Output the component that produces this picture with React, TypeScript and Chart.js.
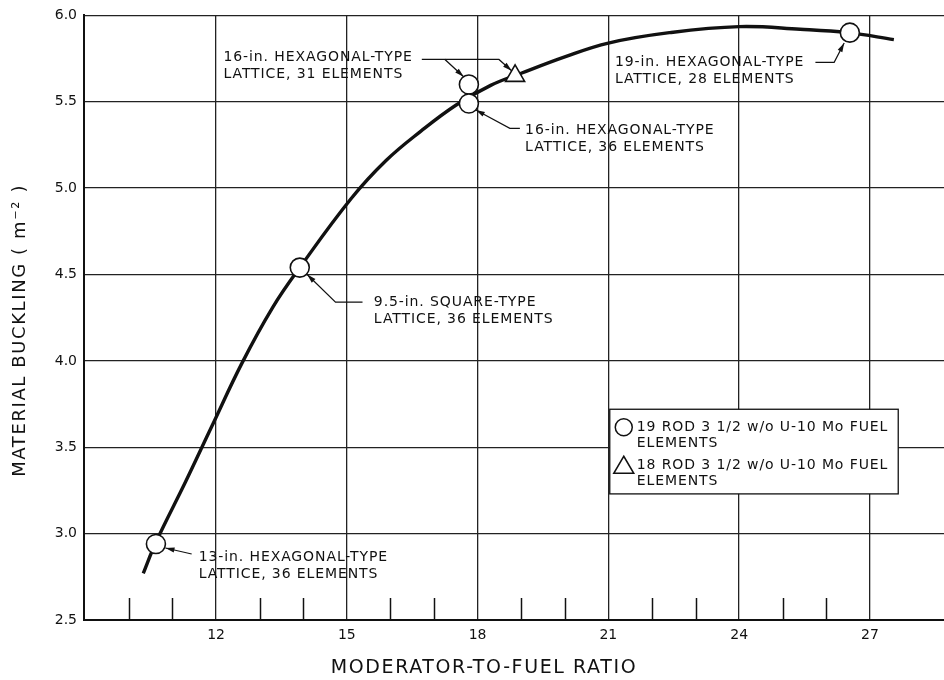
import React, { useEffect, useRef } from "react";
import { Chart, registerables } from "chart.js";
Chart.register(...registerables);

// ---- data ----
const curveX = [10.33, 10.62, 11.3, 11.9, 12.6, 13.3, 13.92, 15.1, 15.9, 16.7, 17.5, 18.3, 19.0, 20.0, 21.0, 22.4, 24.0, 25.4, 26.5, 27.55];
const curveY = [2.77, 2.95, 3.3, 3.62, 3.99, 4.31, 4.54, 4.94, 5.16, 5.33, 5.48, 5.595, 5.665, 5.76, 5.84, 5.9, 5.935, 5.92, 5.9, 5.86];
const rod19X = [10.62, 13.92, 17.8, 17.8, 26.54];
const rod19Y = [2.94, 4.54, 5.6, 5.49, 5.9];
const rod18X = [18.86];
const rod18Y = [5.65];
const xMajorTicks = [12, 15, 18, 21, 24, 27];
const xMinorTicks = [10, 11, 13, 14, 16, 17, 19, 20, 22, 23, 25, 26];
const yTicks = [2.5, 3.0, 3.5, 4.0, 4.5, 5.0, 5.5, 6.0];
const xTitle = "MODERATOR-TO-FUEL RATIO";
const yTitle = "MATERIAL BUCKLING ( m⁻² )";
const legend19 = ["19 ROD 3 1/2 w/o U-10 Mo FUEL", "ELEMENTS"];
const legend18 = ["18 ROD 3 1/2 w/o U-10 Mo FUEL", "ELEMENTS"];

// annotation labels (text anchor and leader paths in data units)
const annotations = [
  {
    lines: ["16-in. HEXAGONAL-TYPE", "LATTICE, 31 ELEMENTS"],
    at: [12.17, 5.757],
    leaders: [
      [[16.72, 5.745], [17.25, 5.745], [17.68, 5.645]],
      [[17.25, 5.745], [18.49, 5.745], [18.78, 5.68]],
    ],
  },
  {
    lines: ["16-in. HEXAGONAL-TYPE", "LATTICE, 36 ELEMENTS"],
    at: [19.09, 5.335],
    leaders: [[[18.97, 5.346], [18.74, 5.346], [17.96, 5.452]]],
  },
  {
    lines: ["9.5-in. SQUARE-TYPE", "LATTICE, 36 ELEMENTS"],
    at: [15.62, 4.34],
    leaders: [[[15.36, 4.34], [14.74, 4.34], [14.09, 4.5]]],
  },
  {
    lines: ["13-in. HEXAGONAL-TYPE", "LATTICE, 36 ELEMENTS"],
    at: [11.6, 2.864],
    leaders: [[[11.44, 2.882], [10.84, 2.917]]],
  },
  {
    lines: ["19-in. HEXAGONAL-TYPE", "LATTICE, 28 ELEMENTS"],
    at: [21.15, 5.728],
    leaders: [[[25.75, 5.728], [26.18, 5.728], [26.41, 5.84]]],
  },
];

const FONT = "'DejaVu Sans', sans-serif";

function arrowHead(ctx: CanvasRenderingContext2D, x1: number, y1: number, x2: number, y2: number) {
  const a = Math.atan2(y2 - y1, x2 - x1);
  const L = 9, W = 2.6;
  ctx.beginPath();
  ctx.moveTo(x2, y2);
  ctx.lineTo(x2 - L * Math.cos(a) + W * Math.sin(a), y2 - L * Math.sin(a) - W * Math.cos(a));
  ctx.lineTo(x2 - L * Math.cos(a) - W * Math.sin(a), y2 - L * Math.sin(a) + W * Math.cos(a));
  ctx.closePath();
  ctx.fill();
}

const overlayPlugin = {
  id: "overlay",
  afterDraw(chart: any) {
    const ctx: CanvasRenderingContext2D = chart.ctx;
    const xs = chart.scales.x;
    const ys = chart.scales.y;
    const area = chart.chartArea;
    ctx.save();
    ctx.strokeStyle = "#111";
    ctx.fillStyle = "#111";

    // minor tick marks on the bottom axis
    ctx.lineWidth = 1.5;
    for (const v of xMinorTicks) {
      const px = Math.round(xs.getPixelForValue(v)) + 0.5;
      ctx.beginPath();
      ctx.moveTo(px, area.bottom);
      ctx.lineTo(px, area.bottom - 22);
      ctx.stroke();
    }

    // annotations
    ctx.font = `14px ${FONT}`;
    (ctx as any).letterSpacing = "0.9px";
    ctx.textBaseline = "middle";
    ctx.textAlign = "left";
    for (const a of annotations) {
      const tx = xs.getPixelForValue(a.at[0]);
      const ty = ys.getPixelForValue(a.at[1]);
      a.lines.forEach((ln, i) => ctx.fillText(ln, tx, ty + i * 17));
      ctx.lineWidth = 1.2;
      for (const path of a.leaders) {
        const pts = path.map((p) => [xs.getPixelForValue(p[0]), ys.getPixelForValue(p[1])]);
        ctx.beginPath();
        pts.forEach((p, i) => (i === 0 ? ctx.moveTo(p[0], p[1]) : ctx.lineTo(p[0], p[1])));
        ctx.stroke();
        const n = pts.length;
        arrowHead(ctx, pts[n - 2][0], pts[n - 2][1], pts[n - 1][0], pts[n - 1][1]);
      }
    }

    // legend box
    const boxRight = xs.getPixelForValue(27.65);
    const boxTop = ys.getPixelForValue(3.72);
    const boxBottom = ys.getPixelForValue(3.23);
    const w = Math.max(ctx.measureText(legend19[0]).width, ctx.measureText(legend18[0]).width);
    const textLeft = boxRight - 10 - w;
    const boxLeft = textLeft - 27;
    ctx.fillStyle = "#fff";
    ctx.fillRect(boxLeft, boxTop, boxRight - boxLeft, boxBottom - boxTop);
    ctx.lineWidth = 1.3;
    ctx.strokeRect(boxLeft, boxTop, boxRight - boxLeft, boxBottom - boxTop);
    ctx.fillStyle = "#111";
    const l1 = boxTop + 18, l3 = boxTop + 56;
    ctx.fillText(legend19[0], textLeft, l1);
    ctx.fillText(legend19[1], textLeft, l1 + 16);
    ctx.fillText(legend18[0], textLeft, l3);
    ctx.fillText(legend18[1], textLeft, l3 + 16);
    const mx = boxLeft + 14;
    ctx.lineWidth = 1.5;
    ctx.beginPath();
    ctx.arc(mx, l1, 8.5, 0, Math.PI * 2);
    ctx.stroke();
    ctx.beginPath();
    ctx.moveTo(mx, l3 - 9);
    ctx.lineTo(mx + 10, l3 + 8);
    ctx.lineTo(mx - 10, l3 + 8);
    ctx.closePath();
    ctx.stroke();

    // axis titles
    ctx.fillStyle = "#111";
    ctx.textAlign = "center";
    ctx.font = `19px ${FONT}`;
    (ctx as any).letterSpacing = "1.6px";
    ctx.fillText(xTitle, area.left + 400, area.bottom + 48);
    ctx.translate(20, area.top + 315);
    ctx.rotate(-Math.PI / 2);
    ctx.font = `18px ${FONT}`;
    (ctx as any).letterSpacing = "1.6px";
    ctx.fillText(yTitle, 0, 0);
    (ctx as any).letterSpacing = "0px";
    ctx.restore();
  },
};

export default function App() {
  const ref = useRef<HTMLCanvasElement | null>(null);
  useEffect(() => {
    if (!ref.current) return;
    const chart = new Chart(ref.current, {
      type: "scatter",
      data: {
        datasets: [
          {
            label: "19 ROD 3 1/2 w/o U-10 Mo FUEL ELEMENTS",
            data: rod19X.map((x, i) => ({ x, y: rod19Y[i] })),
            pointStyle: "circle",
            pointRadius: 9.5,
            backgroundColor: "#fff",
            borderColor: "#111",
            borderWidth: 1.6,
            showLine: false,
          },
          {
            label: "18 ROD 3 1/2 w/o U-10 Mo FUEL ELEMENTS",
            data: rod18X.map((x, i) => ({ x, y: rod18Y[i] })),
            pointStyle: "triangle",
            pointRadius: 11,
            backgroundColor: "#fff",
            borderColor: "#111",
            borderWidth: 1.6,
            showLine: false,
          },
          {
            label: "curve",
            data: curveX.map((x, i) => ({ x, y: curveY[i] })),
            showLine: true,
            pointRadius: 0,
            borderColor: "#111",
            borderWidth: 3.4,
            tension: 0.4,
          },
        ],
      },
      options: {
        animation: false,
        responsive: false,
        maintainAspectRatio: false,
        layout: { autoPadding: false, padding: { left: 0, right: 0, top: 15, bottom: 0 } },
        plugins: { legend: { display: false }, tooltip: { enabled: false } },
        scales: {
          x: {
            type: "linear",
            min: 8.97,
            max: 28.7,
            afterBuildTicks: (s: any) => {
              s.ticks = xMajorTicks.map((v) => ({ value: v }));
            },
            afterFit: (s: any) => {
              s.height = 60;
              s.paddingLeft = 0;
              s.paddingRight = 0;
            },
            grid: { color: "#222", lineWidth: 1.3, drawTicks: false },
            border: { color: "#111", width: 2 },
            ticks: {
              color: "#111",
              font: { family: FONT, size: 14 },
              padding: 7,
              maxRotation: 0,
              callback: (v: any) => String(v),
            },
          },
          y: {
            type: "linear",
            min: 2.5,
            max: 6.0,
            afterBuildTicks: (s: any) => {
              s.ticks = yTicks.map((v) => ({ value: v }));
            },
            afterFit: (s: any) => {
              s.width = 84;
            },
            grid: { color: "#222", lineWidth: 1.3, drawTicks: false },
            border: { color: "#111", width: 2 },
            ticks: {
              color: "#111",
              font: { family: FONT, size: 14 },
              padding: 7,
              callback: (v: any) => Number(v).toFixed(1),
            },
          },
        },
      },
      plugins: [overlayPlugin],
    } as any);
    return () => chart.destroy();
  }, []);
  return (
    <div style={{ position: "fixed", left: 0, top: 0, width: 944, height: 680, background: "#fff" }}>
      <canvas ref={ref} width={944} height={680} style={{ width: 944, height: 680 }} />
    </div>
  );
}
